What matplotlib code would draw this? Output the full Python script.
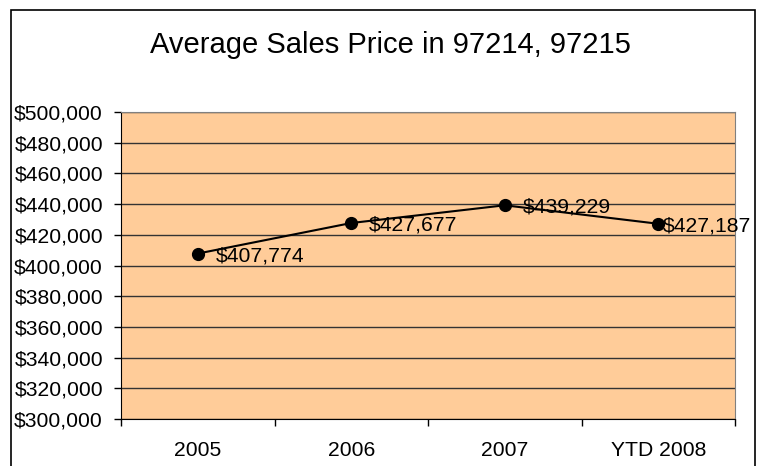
import matplotlib
matplotlib.use("Agg")
import matplotlib.pyplot as plt
from matplotlib.patches import Rectangle
from matplotlib.ticker import FuncFormatter, FixedLocator

plt.rcParams['font.family'] = ['Liberation Sans', 'DejaVu Sans']

years = ['2005', '2006', '2007', 'YTD 2008']
avg_price = [407774, 427677, 439229, 427187]
price_labels = ['$407,774', '$427,677', '$439,229', '$427,187']

W, H = 767, 466
fig = plt.figure(figsize=(W / 100, H / 100), dpi=100)

# outer chart border (bottom edge runs off the picture)
fig.patches.append(Rectangle((11 / W, -0.05), (755 - 11) / W, 1 - 10 / H + 0.05,
                             transform=fig.transFigure, fill=False,
                             edgecolor='black', linewidth=1.2))

fig.text(390 / W, 1 - 45 / H, 'Average Sales Price in 97214, 97215',
         ha='center', va='center', fontsize=21)

ax = fig.add_axes([121 / W, 1 - 419 / H, (735 - 121) / W, (419 - 112) / H])
ax.set_facecolor('#FFCC99')

x = list(range(len(years)))
ax.plot(x, avg_price, color='black', linewidth=1.5, marker='o', markersize=8.5, zorder=3)

# Excel pulled the last label in so it fits
offsets = [(18, -2), (18, -2), (18, -2), (5, -2)]
for xi, yi, lab, off in zip(x, avg_price, price_labels, offsets):
    ax.annotate(lab, (xi, yi), xytext=off, textcoords='offset pixels',
                ha='left', va='center', fontsize=15.2, zorder=4)

ax.set_xlim(-0.5, len(years) - 0.5)
ax.set_ylim(300000, 500000)
ax.set_yticks(range(300000, 500001, 20000))
ax.yaxis.set_major_formatter(FuncFormatter(lambda v, p: '${:,.0f}'.format(v)))
ax.grid(axis='y', color='#333333', linewidth=1)
ax.set_axisbelow(True)

ax.set_xticks(x)
ax.set_xticklabels(years)
ax.xaxis.set_minor_locator(FixedLocator([i - 0.5 for i in range(len(years) + 1)]))
ax.tick_params(axis='x', which='major', length=0, pad=16, labelsize=15.2)
ax.tick_params(axis='x', which='minor', length=5, width=1, direction='out')
ax.tick_params(axis='y', length=5, width=1, direction='out', pad=8, labelsize=15.2)

for side in ['top', 'right']:
    ax.spines[side].set_color('#808080')
for side in ['left', 'bottom']:
    ax.spines[side].set_color('black')

fig.savefig('out.png', dpi=100)
